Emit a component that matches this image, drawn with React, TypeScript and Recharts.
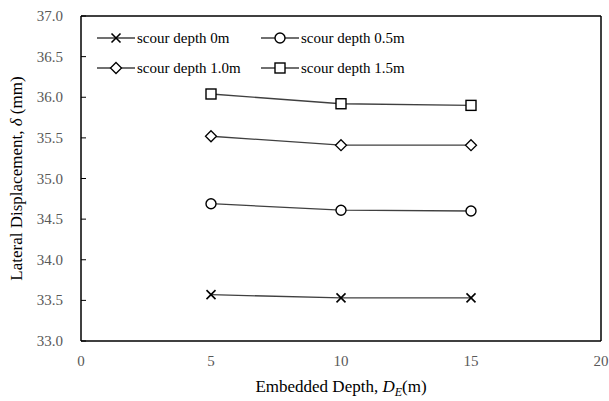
import React from 'react'
import {
  LineChart,
  Line,
  XAxis,
  YAxis,
  ReferenceLine,
} from 'recharts'

// embedded depth D_E (m)
const depths = [5, 10, 15]

// lateral displacement (mm) per scour depth
const scour0 = [33.57, 33.53, 33.53]
const scour05 = [34.69, 34.61, 34.6]
const scour10 = [35.52, 35.41, 35.41]
const scour15 = [36.04, 35.92, 35.9]

const xTicks = [0, 5, 10, 15, 20]
const yTicks = [33, 33.5, 34, 34.5, 35, 35.5, 36, 36.5, 37]

const seriesNames = ['scour depth 0m', 'scour depth 0.5m', 'scour depth 1.0m', 'scour depth 1.5m']
const seriesShapes = ['cross', 'circle', 'diamond', 'square']

const data = depths.map((d, i) => ({
  depth: d,
  s0: scour0[i],
  s05: scour05[i],
  s10: scour10[i],
  s15: scour15[i],
}))

const FONT = '"Liberation Serif", "Times New Roman", serif'
const LINE = '#404040'

function Marker({ shape, cx, cy }: { shape: string; cx: number; cy: number }) {
  if (shape === 'cross') {
    const h = 4.5
    return (
      <g stroke="#000" strokeWidth={1.6}>
        <line x1={cx - h} y1={cy - h} x2={cx + h} y2={cy + h} />
        <line x1={cx - h} y1={cy + h} x2={cx + h} y2={cy - h} />
      </g>
    )
  }
  if (shape === 'circle') {
    return <circle cx={cx} cy={cy} r={5} fill="#fff" stroke="#000" strokeWidth={1.4} />
  }
  if (shape === 'diamond') {
    const h = 5.5
    return (
      <polygon
        points={`${cx},${cy - h} ${cx + h},${cy} ${cx},${cy + h} ${cx - h},${cy}`}
        fill="#fff"
        stroke="#000"
        strokeWidth={1.3}
      />
    )
  }
  return <rect x={cx - 5} y={cy - 5} width={10} height={10} fill="#fff" stroke="#000" strokeWidth={1.4} />
}

function LegendBox() {
  const item = (i: number) => (
    <div key={i} style={{ display: 'flex', alignItems: 'center', height: 30 }}>
      <svg width={38} height={14}>
        <line x1={0} y1={7} x2={38} y2={7} stroke={LINE} strokeWidth={1.3} />
        <Marker shape={seriesShapes[i]} cx={19} cy={7} />
      </svg>
      <span style={{ marginLeft: 2 }}>{seriesNames[i]}</span>
    </div>
  )
  return (
    <div
      style={{
        position: 'absolute',
        top: 23,
        left: 97,
        display: 'grid',
        gridTemplateColumns: '164px 170px',
        fontFamily: FONT,
        fontSize: 15,
        color: '#000',
      }}
    >
      {[0, 1, 2, 3].map(item)}
    </div>
  )
}

function XLabel({ viewBox }: any) {
  const cx = viewBox.x + viewBox.width / 2
  return (
    <text x={cx} y={392} textAnchor="middle" fontFamily={FONT} fontSize={17} fill="#000">
      Embedded Depth,{' '}
      <tspan fontStyle="italic">D</tspan>
      <tspan fontStyle="italic" fontSize={12} dy={4}>E</tspan>
      <tspan dy={-4}>(m)</tspan>
    </text>
  )
}

function YLabel({ viewBox }: any) {
  const cy = viewBox.y + viewBox.height / 2
  return (
    <text
      x={22}
      y={cy}
      transform={`rotate(-90, 22, ${cy})`}
      textAnchor="middle"
      fontFamily={FONT}
      fontSize={17}
      fill="#000"
    >
      Lateral Displacement, <tspan fontStyle="italic">δ</tspan> (mm)
    </text>
  )
}

const renderXTick = (p: any) => (
  <text
    key={`xt-${p.index}`}
    x={p.x}
    y={361}
    dy={5}
    textAnchor="middle"
    style={{ fontFamily: FONT, fontSize: 15 }}
    fill="#595959"
  >
    {p.payload.value}
  </text>
)

// inward tick marks, as in the source figure
const renderYTick = (p: any) => (
  <g key={`yt-${p.index}`}>
    <line x1={81} y1={p.y} x2={86} y2={p.y} stroke="#000" strokeWidth={1} />
    <text
      x={63}
      y={p.y}
      dy={5}
      textAnchor="end"
      style={{ fontFamily: FONT, fontSize: 15 }}
      fill="#595959"
    >
      {Number(p.payload.value).toFixed(1)}
    </text>
  </g>
)

export default function App() {
  const keys = ['s0', 's05', 's10', 's15']
  return (
    <div style={{ position: 'absolute', left: 0, top: 0, background: '#fff', fontFamily: FONT }}>
      <LineChart
        width={609}
        height={401}
        data={data}
        margin={{ top: 16, right: 8, bottom: 0, left: 0 }}
      >
        <XAxis
          dataKey="depth"
          type="number"
          domain={[0, 20]}
          ticks={xTicks}
          tick={renderXTick}
          tickLine={false}
          axisLine={{ stroke: '#000', strokeWidth: 1.5 }}
          height={60}
          label={<XLabel />}
        />
        <YAxis
          type="number"
          domain={[33, 37]}
          ticks={yTicks}
          tick={renderYTick}
          tickLine={false}
          axisLine={{ stroke: '#000', strokeWidth: 1.5 }}
          width={81}
          label={<YLabel />}
        />
        <ReferenceLine y={37} stroke="#000" strokeWidth={1.5} />
        <ReferenceLine x={20} stroke="#000" strokeWidth={1.5} />
        {keys.map((k, si) => (
          <Line
            key={k}
            dataKey={k}
            name={seriesNames[si]}
            stroke={LINE}
            strokeWidth={1.3}
            isAnimationActive={false}
            dot={(p: any) => (
              <Marker key={`${k}-${p.index}`} shape={seriesShapes[si]} cx={p.cx} cy={p.cy} />
            )}
            activeDot={false}
          />
        ))}
      </LineChart>
      <LegendBox />
    </div>
  )
}
